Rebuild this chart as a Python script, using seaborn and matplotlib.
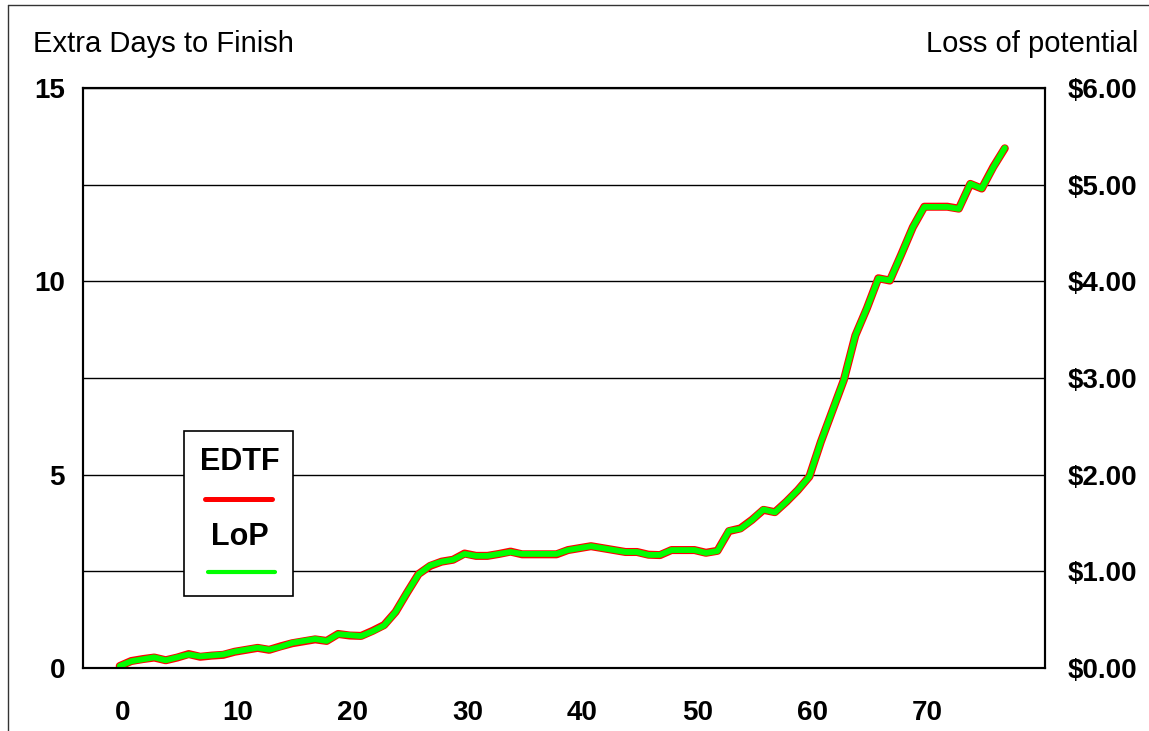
"""
Extra Days to Finish (EDTF) vs Loss of potential (LoP) chart.
"""
import numpy as np
import pandas as pd
import matplotlib
matplotlib.use('Agg')
import matplotlib.pyplot as plt
import matplotlib.transforms as mtransforms
from matplotlib.lines import Line2D
from matplotlib.patches import Rectangle
import seaborn as sns

# sample index along the x axis
day = np.arange(78)

# extra days to finish (left axis)
edtf = [0.05, 0.18, 0.23, 0.27, 0.20, 0.27, 0.36, 0.29, 0.32, 0.34,
        0.42, 0.47, 0.52, 0.47, 0.56, 0.64, 0.69, 0.74, 0.70, 0.88,
        0.84, 0.83, 0.96, 1.11, 1.45, 1.95, 2.43, 2.64, 2.75, 2.80,
        2.96, 2.90, 2.90, 2.95, 3.01, 2.94, 2.94, 2.94, 2.94, 3.05,
        3.10, 3.15, 3.10, 3.05, 3.00, 3.00, 2.93, 2.92, 3.05, 3.05,
        3.05, 2.98, 3.03, 3.54, 3.61, 3.83, 4.09, 4.03, 4.30, 4.60,
        4.95, 5.85, 6.65, 7.45, 8.60, 9.30, 10.08, 10.02, 10.70, 11.40,
        11.93, 11.93, 11.93, 11.88, 12.52, 12.40, 12.96, 13.44]

# loss of potential in dollars (right axis)
lop = [0.02, 0.07, 0.09, 0.11, 0.08, 0.11, 0.14, 0.12, 0.13, 0.14,
       0.17, 0.19, 0.21, 0.19, 0.22, 0.26, 0.28, 0.30, 0.28, 0.35,
       0.34, 0.33, 0.38, 0.44, 0.58, 0.78, 0.97, 1.06, 1.10, 1.12,
       1.18, 1.16, 1.16, 1.18, 1.20, 1.18, 1.18, 1.18, 1.18, 1.22,
       1.24, 1.26, 1.24, 1.22, 1.20, 1.20, 1.17, 1.17, 1.22, 1.22,
       1.22, 1.19, 1.21, 1.42, 1.44, 1.53, 1.64, 1.61, 1.72, 1.84,
       1.98, 2.34, 2.66, 2.98, 3.44, 3.72, 4.03, 4.01, 4.28, 4.56,
       4.77, 4.77, 4.77, 4.75, 5.01, 4.96, 5.18, 5.38]

x_ticks = [0, 10, 20, 30, 40, 50, 60, 70]
left_ticks = [0, 5, 10, 15]
right_ticks = [0, 1, 2, 3, 4, 5, 6]

df = pd.DataFrame({'day': day, 'EDTF': edtf, 'LoP': lop})

sns.set_theme(style='white')
plt.rcParams['font.family'] = ['Liberation Sans', 'DejaVu Sans']

fig = plt.figure(figsize=(11.49, 7.31), dpi=100)
ax = fig.add_axes([0.0722, 0.0862, 0.8373, 0.7934])
ax2 = ax.twinx()

sns.lineplot(data=df, x='day', y='EDTF', ax=ax, color='#ff0000',
             lw=5.8, solid_capstyle='round', solid_joinstyle='round')
sns.lineplot(data=df, x='day', y='LoP', ax=ax2, color='#00ff00',
             lw=4.2, solid_capstyle='round', solid_joinstyle='round')

ax.set_xlim(-3.2, 80.5)
ax.set_ylim(0, 15)
ax2.set_ylim(0, 6)
ax.set_xlabel('')
ax.set_ylabel('')
ax2.set_ylabel('')

ax.set_xticks(x_ticks, [str(t) for t in x_ticks], fontweight='bold')
ax.set_yticks(left_ticks, [str(t) for t in left_ticks], fontweight='bold')
ax.set_yticks([2.5, 7.5, 12.5], minor=True)
ax2.set_yticks(right_ticks, ['$%.2f' % t for t in right_ticks], fontweight='bold')

ax.grid(False)
ax2.grid(False)
ax.grid(axis='y', which='both', color='black', lw=1.0)
ax.tick_params(axis='both', which='both', length=0, labelsize=20, colors='black')
ax.tick_params(axis='y', pad=13)
ax.tick_params(axis='x', pad=23)
ax2.tick_params(axis='y', length=0, labelsize=20, pad=16, colors='black')

for sp in list(ax.spines.values()) + list(ax2.spines.values()):
    sp.set_color('black')
    sp.set_linewidth(1.5)

# nudge x labels a little to the right like the original
offset = mtransforms.ScaledTranslation(3 / 100, 0, fig.dpi_scale_trans)
for lbl in ax.get_xticklabels():
    lbl.set_transform(lbl.get_transform() + offset)

# legend box with labels stacked over their lines
tr = ax2.transAxes
ax2.add_patch(Rectangle((0.105, 0.124), 0.113, 0.285, transform=tr,
                        facecolor='white', edgecolor='black', lw=1.2, zorder=5))
ax2.text(0.163, 0.356, 'EDTF', transform=tr, ha='center', va='center',
         fontsize=22, fontweight='bold', color='black', zorder=6)
ax2.add_line(Line2D([0.127, 0.197], [0.291, 0.291], transform=tr, color='#ff0000',
                    lw=3.6, solid_capstyle='round', zorder=6))
ax2.text(0.163, 0.226, 'LoP', transform=tr, ha='center', va='center',
         fontsize=22, fontweight='bold', color='black', zorder=6)
ax2.add_line(Line2D([0.130, 0.200], [0.165, 0.165], transform=tr, color='#00ff00',
                    lw=3.0, solid_capstyle='round', zorder=6))

# axis titles
fig.text(0.0287, 0.940, 'Extra Days to Finish', ha='left', va='center',
         fontsize=21, color='black')
fig.text(0.9904, 0.940, 'Loss of potential', ha='right', va='center',
         fontsize=21, color='black')

# outer frame (only top and left edges show)
fig.add_artist(Line2D([0.007, 1.0], [0.993, 0.993], transform=fig.transFigure,
                      color='#333333', lw=1.0))
fig.add_artist(Line2D([0.007, 0.007], [0.0, 0.993], transform=fig.transFigure,
                      color='#333333', lw=1.0))

fig.savefig('out.png', dpi=100)
